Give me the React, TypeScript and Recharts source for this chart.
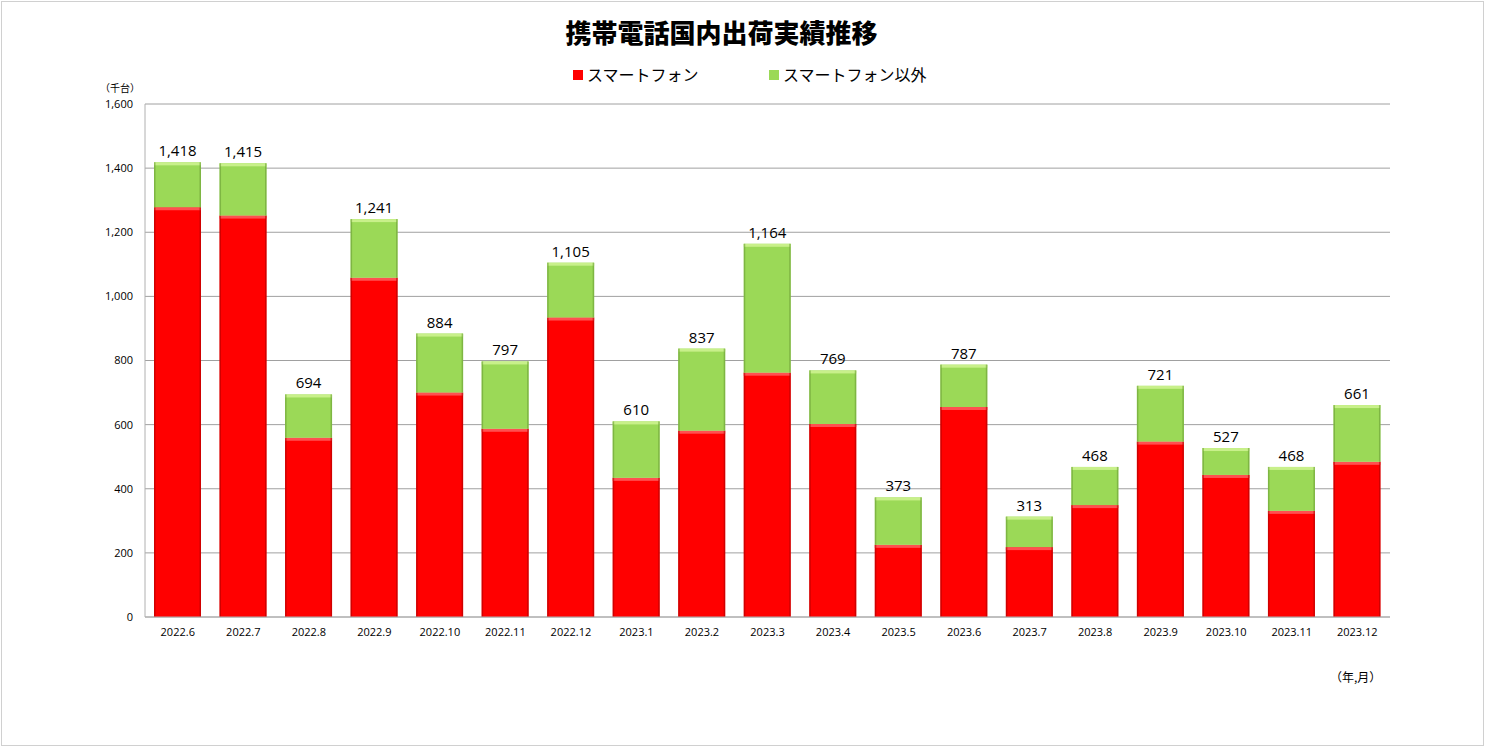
import React from 'react';
import { BarChart, Bar, XAxis, YAxis, CartesianGrid, LabelList } from 'recharts';

const months = ['2022.6','2022.7','2022.8','2022.9','2022.10','2022.11','2022.12','2023.1','2023.2','2023.3','2023.4','2023.5','2023.6','2023.7','2023.8','2023.9','2023.10','2023.11','2023.12'];
const totals = [1418,1415,694,1241,884,797,1105,610,837,1164,769,373,787,313,468,721,527,468,661];
const smartphone = [1278,1252,559,1058,700,587,934,434,581,762,602,225,655,218,349,547,443,331,484];
const yTicks = [0,200,400,600,800,1000,1200,1400,1600];
const seriesNames = ['スマートフォン','スマートフォン以外'];
const seriesColors = ['#FF0000','#9BD957'];

const data = months.map((m, i) => ({
  month: m,
  smart: smartphone[i],
  other: totals[i] - smartphone[i],
  total: totals[i],
}));

const JP = '"Noto Sans CJK JP", "Noto Sans", sans-serif';
const NUM = '"Open Sans", "Noto Sans", sans-serif';

const BevelBar = (props: any) => {
  const { x, y, width, height, fill, light, dark } = props;
  if (!height || height <= 0) return null;
  return (
    <g>
      <rect x={x} y={y} width={width} height={height} fill={fill} />
      <rect x={x} y={y} width={width} height={Math.min(3, height)} fill={light} />
      <rect x={x} y={y} width={1.5} height={height} fill={dark} opacity={0.6} />
      <rect x={x + width - 1.5} y={y} width={1.5} height={height} fill={dark} opacity={0.6} />
    </g>
  );
};

export default function App() {
  return (
    <div style={{ position: 'absolute', left: 0, top: 0, width: 1486, height: 748, background: '#fff' }}>
      <div style={{ position: 'absolute', left: 1, top: 1, width: 1483, height: 745, border: '1px solid #d0d0d0', boxSizing: 'border-box' }} />
      <div style={{ position: 'absolute', left: 0, top: 13, width: 1443, textAlign: 'center', fontFamily: JP, fontWeight: 900, fontSize: 26, color: '#000' }}>
        携帯電話国内出荷実績推移
      </div>
      <div style={{ position: 'absolute', left: 0, top: 66, width: 1486, height: 24, fontFamily: JP, fontSize: 16, color: '#000' }}>
        <div style={{ position: 'absolute', left: 573, top: 4, width: 10, height: 10, background: seriesColors[0] }} />
        <div style={{ position: 'absolute', left: 587, top: -4, whiteSpace: 'nowrap' }}>{seriesNames[0]}</div>
        <div style={{ position: 'absolute', left: 769, top: 4, width: 10, height: 10, background: seriesColors[1] }} />
        <div style={{ position: 'absolute', left: 783, top: -4, whiteSpace: 'nowrap' }}>{seriesNames[1]}</div>
      </div>
      <div style={{ position: 'absolute', left: 100, top: 80, fontFamily: JP, fontSize: 10, color: '#000' }}>（千台）</div>
      <div style={{ position: 'absolute', left: 1330, top: 668, fontFamily: JP, fontSize: 12, color: '#000' }}>（年,月）</div>
      <div style={{ position: 'absolute', left: 0, top: 0 }}>
        <BarChart
          width={1486}
          height={748}
          data={data}
          margin={{ top: 104, right: 96, bottom: 101, left: 0 }}
          barCategoryGap={0}
          barSize={47}
        >
          <CartesianGrid vertical={false} stroke="#a0a0a0" />
          <XAxis
            dataKey="month"
            axisLine={{ stroke: '#b0b0b0' }}
            tickLine={false}
            tickSize={0}
            tickMargin={11}
            height={30}
            interval={0}
            tick={{ fontFamily: NUM, fontSize: 11, fill: '#000' }}
          />
          <YAxis
            width={145}
            domain={[0, 1600]}
            ticks={yTicks}
            axisLine={{ stroke: '#b0b0b0' }}
            tickLine={false}
            tickSize={0}
            tickMargin={12}
            tickFormatter={(v: number) => v.toLocaleString('en-US')}
            tick={{ fontFamily: NUM, fontSize: 11, fill: '#000' }}
          />
          <Bar dataKey="smart" name={seriesNames[0]} stackId="a" fill={seriesColors[0]} isAnimationActive={false}
            shape={(p: any) => <BevelBar {...p} fill={seriesColors[0]} light="#FF5050" dark="#B00000" />} />
          <Bar dataKey="other" name={seriesNames[1]} stackId="a" fill={seriesColors[1]} isAnimationActive={false}
            shape={(p: any) => <BevelBar {...p} fill={seriesColors[1]} light="#C8F08A" dark="#6A9E35" />}>
            <LabelList dataKey="total" position="top" offset={6}
              formatter={(v: any) => Number(v).toLocaleString('en-US')}
              style={{ fontFamily: NUM, fontSize: 15, fill: '#000' }} />
          </Bar>
        </BarChart>
      </div>
    </div>
  );
}
